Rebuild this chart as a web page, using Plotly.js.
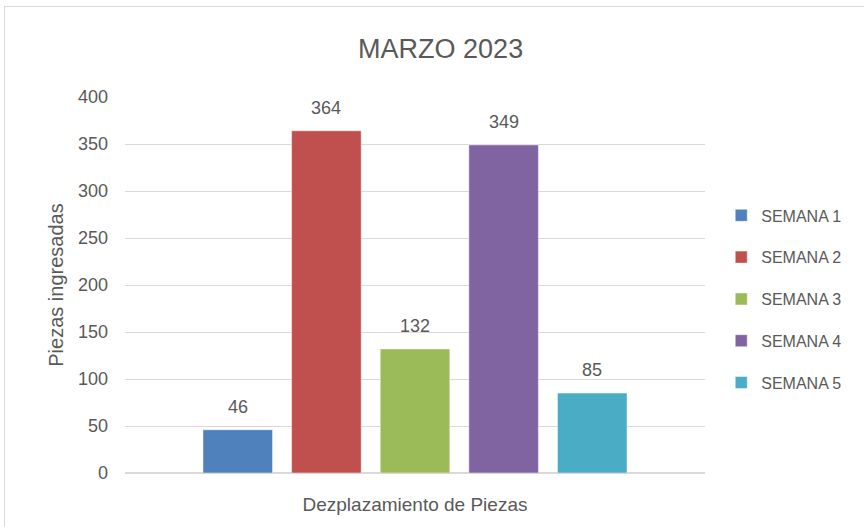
<!DOCTYPE html>
<html>
<head>
<meta charset="utf-8">
<script src="https://cdn.plot.ly/plotly-3.0.1.min.js"></script>
<style>
html,body{margin:0;padding:0;background:#fff;overflow:hidden;}
#frame{position:absolute;left:4px;top:6px;width:900px;height:560px;border:1px solid #d9d9d9;box-sizing:border-box;}
#chart{position:absolute;left:0;top:0;width:864px;height:527px;}
</style>
</head>
<body>
<div id="frame"></div>
<div id="chart"></div>
<script>
const category = ["Dezplazamiento de Piezas"];
const seriesNames = ["SEMANA 1","SEMANA 2","SEMANA 3","SEMANA 4","SEMANA 5"];
const seriesValues = [46, 364, 132, 349, 85];
const seriesColors = ["#4F81BD","#C0504D","#9BBB59","#8064A2","#4BACC6"];
const yTicks = [0,50,100,150,200,250,300,350,400];

const fontFam = "Liberation Sans, Arial, sans-serif";
const bargap = 0.236;
const bargroupgap = 0.215;

const traces = seriesNames.map((n,i)=>({
  type:"bar",
  name:n,
  x:category,
  y:[seriesValues[i]],
  marker:{color:seriesColors[i],line:{color:"rgba(255,255,255,0.45)",width:1}},
  legendgroup:n,
  hoverinfo:"none"
}));

// data labels above each bar, placed at the bar centres of the grouped layout
const slot = (1 - bargap) / seriesNames.length;
const annotations = seriesNames.map((n,i)=>({
  xref:"x", yref:"y",
  x: (i - (seriesNames.length - 1) / 2) * slot,
  y: seriesValues[i],
  text: String(seriesValues[i]),
  showarrow:false,
  xanchor:"center", yanchor:"middle",
  yshift:23,
  font:{family:fontFam,size:18,color:"#595959"}
}));

const layout = {
  width:864,height:527,
  paper_bgcolor:"rgba(0,0,0,0)",
  plot_bgcolor:"rgba(0,0,0,0)",
  margin:{l:125,r:159,t:97,b:54},
  barmode:"group",
  bargap:bargap,
  bargroupgap:bargroupgap,
  font:{family:fontFam,color:"#595959"},
  title:{text:"MARZO 2023",x:0.51,xanchor:"center",y:0.908,yanchor:"middle",font:{family:fontFam,size:27,color:"#595959"}},
  xaxis:{
    type:"category",
    showgrid:false,
    showline:false,
    zeroline:false,
    ticks:"",
    ticklabelstandoff:18,
    tickfont:{family:fontFam,size:19,color:"#595959"}
  },
  yaxis:{
    range:[0,400],
    tickvals:yTicks,
    showgrid:true,
    gridcolor:"#d9d9d9",
    gridwidth:1,
    zeroline:true,
    zerolinecolor:"#d9d9d9",
    zerolinewidth:2,
    showline:false,
    ticks:"",
    ticklabelstandoff:16,
    tickfont:{family:fontFam,size:18,color:"#595959"},
    title:{text:"Piezas ingresadas",standoff:8,font:{family:fontFam,size:20,color:"#595959"}}
  },
  annotations:annotations,
  legend:{
    x:1.028,xanchor:"left",
    y:0.463,yanchor:"middle",
    font:{family:fontFam,size:16,color:"#595959"},
    tracegroupgap:18,
    itemwidth:30,
    bgcolor:"rgba(0,0,0,0)"
  },
  showlegend:true
};

Plotly.newPlot("chart",traces,layout,{displayModeBar:false,staticPlot:true});
</script>
</body>
</html>
